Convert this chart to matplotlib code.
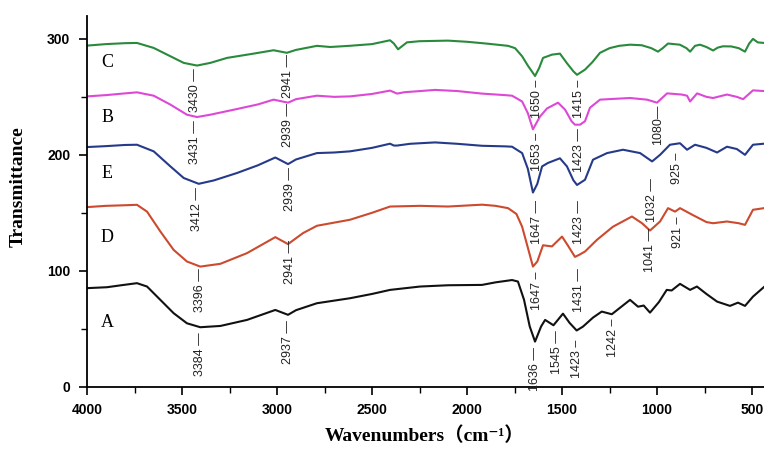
import matplotlib
matplotlib.use('Agg')
import matplotlib.pyplot as plt
from matplotlib.ticker import MultipleLocator

# FTIR spectra, values (wavenumber, transmittance)
A_w = [4000, 3895, 3820, 3737, 3684, 3614, 3544, 3474, 3404, 3298, 3158, 3009, 2942, 2900, 2790,
       2616, 2500, 2405, 2247, 2100, 1921, 1850, 1763, 1732, 1700, 1670, 1642, 1610, 1589, 1545,
       1495, 1460, 1423, 1390, 1337, 1291, 1238, 1180, 1142, 1100, 1070, 1037, 990, 949, 923,
       879, 826, 790, 740, 684, 616, 574, 537, 495, 437]
A_v = [85, 85.8, 87.5, 89.3, 86.4, 74.9, 63.4, 54.7, 51.3, 52.4, 57.6, 66.2, 62, 66, 72,
       76.3, 80, 83.5, 86.4, 87.5, 87.8, 90, 92, 90.7, 75, 52, 38.9, 52, 57.6, 53,
       63, 55, 48.5, 51.8, 59.6, 64.8, 62.5, 70, 74.9, 69, 70, 63.9, 73, 83.5, 83,
       88.7, 83.5, 86.4, 80, 73.4, 69.7, 72.5, 69.7, 77.7, 86]

D_w = [4000, 3900, 3800, 3737, 3684, 3614, 3544, 3474, 3404, 3298, 3158, 3009, 2942, 2863, 2790,
       2616, 2500, 2405, 2247, 2100, 1921, 1850, 1784, 1740, 1710, 1680, 1653, 1630, 1600, 1553,
       1500, 1470, 1432, 1410, 1379, 1316, 1232, 1132, 1079, 1037, 984, 942, 905, 879, 811,
       740, 705, 632, 570, 537, 495, 437]
D_v = [154.9, 156, 156.5, 156.9, 151, 133.9, 118, 108, 103.6, 106, 115.2, 129, 123, 132.5, 138.8,
       144, 150, 155.4, 156, 155.4, 157, 156, 154, 149, 138, 120, 103.6, 108, 122, 121,
       129.5, 122, 112, 113.7, 116.6, 126.7, 138, 146.8, 141, 134.7, 142.5, 154, 151, 154, 148,
       142, 141, 142.5, 141, 139.6, 152.6, 154]

E_w = [4000, 3900, 3800, 3737, 3649, 3561, 3491, 3412, 3333, 3211, 3100, 3009, 2942, 2900, 2790,
       2700, 2616, 2500, 2405, 2385, 2368, 2300, 2247, 2168, 2050, 1921, 1800, 1763, 1710, 1680,
       1653, 1630, 1605, 1574, 1511, 1474, 1440, 1421, 1379, 1337, 1263, 1179, 1089, 1026, 984,
       932, 879, 842, 800, 740, 684, 632, 580, 537, 495, 437]
E_v = [206.7, 207.5, 208.5, 208.7, 203, 190, 180, 175, 177.9, 184.3, 191, 197.7, 192, 196, 201.5,
       202, 203, 206, 209.6, 208, 208, 209.5, 210, 210.7, 209.5, 207.8, 207.3, 207, 201.5, 188,
       167.5, 175, 190, 193, 197, 190, 178, 174, 178.5, 195.8, 201.5, 204.4, 201.5, 194.3, 200,
       208.7, 210, 204.4, 208.7, 206, 202, 207, 205, 200, 208.7, 209.6]

B_w = [4000, 3900, 3800, 3737, 3649, 3561, 3474, 3421, 3351, 3211, 3100, 3018, 2942, 2900, 2790,
       2700, 2616, 2500, 2405, 2385, 2368, 2330, 2247, 2168, 2050, 1921, 1800, 1763, 1710, 1680,
       1653, 1616, 1579, 1521, 1484, 1450, 1432, 1405, 1379, 1353, 1300, 1200, 1142, 1053, 1000,
       947, 870, 842, 826, 789, 740, 705, 632, 580, 547, 495, 437]
B_v = [250.4, 251.5, 253, 253.9, 251, 243.3, 234.6, 232.6, 234.6, 239.5, 243.5, 247.6, 245, 248, 251,
       250, 250.4, 252.5, 255.4, 254, 252.8, 254, 255, 256, 255, 252.8, 251.5, 251, 246, 236,
       222, 233, 240, 245, 239, 229, 226, 226, 229, 240.6, 247.6, 248.5, 249, 247.6, 245,
       253, 252, 251, 246, 253, 250, 249, 252, 250, 248, 255.6, 255]

C_w = [4000, 3900, 3800, 3737, 3649, 3561, 3491, 3421, 3351, 3263, 3123, 3018, 2948, 2900, 2790,
       2720, 2620, 2500, 2405, 2385, 2363, 2316, 2250, 2100, 2000, 1900, 1784, 1747, 1710, 1680,
       1642, 1620, 1600, 1553, 1511, 1474, 1440, 1421, 1379, 1340, 1300, 1250, 1200, 1142, 1080,
       1030, 995, 970, 942, 880, 845, 826, 800, 774, 740, 705, 680, 653, 610, 570, 537,
       515, 495, 470, 437]
C_v = [294.2, 295.5, 296.3, 296.5, 292.2, 285, 279.3, 277, 279.3, 283.6, 287.3, 290.2, 288, 290.5, 294,
       293, 294, 295.5, 298.8, 296, 291, 297, 298, 298.5, 297.5, 296, 294, 292, 285, 277,
       268, 275, 283.6, 286.4, 287.3, 279, 272, 269, 273.5, 280, 288, 292, 294, 295, 294.5,
       292, 289, 292, 296, 295, 292, 289, 294, 295, 293, 290, 292.5, 293.6, 293.5, 292, 289,
       296, 300, 297, 296.5]

curve_names = ['A', 'D', 'E', 'B', 'C']
curve_colors = ['#111111', '#cc4a2e', '#263a8a', '#dd48d6', '#2a8a3c']
letter_w = 3893
letter_v = [55.3, 129, 183.7, 231.8, 279.3]

# peak labels: text, wavenumber, value of the top end
peak_text = ['3430 —', '3431 —', '3412 —', '3396 —', '3384 —',
             '2941 —', '2939 —', '2939 —', '2941 —', '2937 —',
             '1650 –', '1415 –', '1653 –', '1423 —', '1647 —', '1423 —',
             '1647 –', '1431 —', '1636 —', '1545 —', '1423 –',
             '1080—', '1032 —', '925 –', '1041 —', '921 –', '1242 –']
peak_w = [3432, 3432, 3421, 3405, 3405,
          2942, 2942, 2932, 2932, 2942,
          1632, 1413, 1632, 1413, 1632, 1413,
          1632, 1413, 1642, 1528, 1423,
          995, 1028, 897, 1037, 889, 1232]
peak_v = [275, 230, 172.5, 102.4, 47,
          287, 245, 189, 126.7, 57.6,
          264.8, 264.8, 219, 223, 161, 161,
          99, 102, 34, 49, 40.3,
          243.3, 180, 201.6, 137, 146.5, 59]

fig = plt.figure(figsize=(7.64, 4.49), dpi=100)
ax = fig.add_axes([87 / 764, 1 - 386.7 / 449, 1 - 87 / 764, 371 / 449])

for w, v, c in zip([A_w, D_w, E_w, B_w, C_w], [A_v, D_v, E_v, B_v, C_v], curve_colors):
    ax.plot(w, v, color=c, lw=1.5, solid_joinstyle='round')

for name, v in zip(curve_names, letter_v):
    ax.text(letter_w, v, name, family='Liberation Serif', fontsize=13, ha='center', va='center')

for t, w, v in zip(peak_text, peak_w, peak_v):
    ax.text(w, v, t, rotation=90, ha='center', va='top', family='Liberation Sans',
            fontsize=9, color='#222222')

ax.set_xlim(4000, 437)
ax.set_ylim(0, 320)
ax.set_xticks([4000, 3500, 3000, 2500, 2000, 1500, 1000, 500])
ax.set_yticks([0, 100, 200, 300])
ax.xaxis.set_minor_locator(MultipleLocator(250))
ax.yaxis.set_minor_locator(MultipleLocator(50))
ax.tick_params(which='major', direction='out', length=6, width=1.2, pad=6)
ax.tick_params(which='minor', direction='out', length=4, width=1.0)
for lab in ax.get_xticklabels() + ax.get_yticklabels():
    lab.set_family('Liberation Sans')
    lab.set_fontweight('bold')
    lab.set_fontsize(10)

ax.spines['top'].set_visible(False)
ax.spines['right'].set_visible(False)
ax.spines['left'].set_linewidth(1.3)
ax.spines['bottom'].set_linewidth(1.3)

fig.text(18 / 764, 1 - 187 / 449, 'Transmittance', rotation=90, ha='center', va='center',
         family='Liberation Serif', fontweight='bold', fontsize=14)
fig.text(425 / 764, 1 - 436 / 449, 'Wavenumbers（cm⁻¹）', ha='center', va='center',
         family=['Liberation Serif', 'DejaVu Serif', 'Noto Sans CJK SC'], fontweight='bold', fontsize=14)

fig.savefig('out.png', dpi=100)
